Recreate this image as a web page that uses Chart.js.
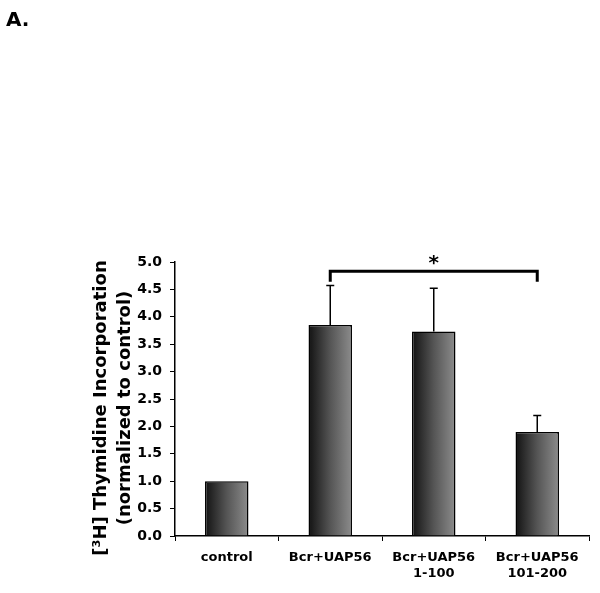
<!DOCTYPE html>
<html>
<head>
<meta charset="utf-8">
<script src="https://cdn.jsdelivr.net/npm/chart.js@4"></script>
<style>
  html, body { margin: 0; padding: 0; background: #fff; }
  #wrap { width: 600px; height: 593px; position: relative; }
</style>
</head>
<body>
<div id="wrap"><canvas id="thyChart"></canvas></div>
<script>
const categories = [['control'], ['Bcr+UAP56'], ['Bcr+UAP56', '1-100'], ['Bcr+UAP56', '101-200']];
const values = [1.0, 3.85, 3.73, 1.90];
const errors = [0, 0.72, 0.79, 0.30];
const yTicks = [0, 0.5, 1.0, 1.5, 2.0, 2.5, 3.0, 3.5, 4.0, 4.5, 5.0];
const bracket = { from: 1, to: 3, level: 4.83, drop: 4.64, label: '*' };

const FONT = '"DejaVu Sans", Verdana, sans-serif';
const BAR_PCT = 0.42;

function barGradient(context) {
    const chart = context.chart;
    const xs = chart.scales.x;
    if (!xs || context.dataIndex === undefined) return '#555';
    const cx = xs.getPixelForValue(context.dataIndex);
    const half = (xs.width / categories.length) * BAR_PCT / 2;
    if (!Number.isFinite(cx) || !Number.isFinite(half)) return '#555';
    const g = chart.ctx.createLinearGradient(cx - half, 0, cx + half, 0);
    g.addColorStop(0, '#121212');
    g.addColorStop(0.5, '#555555');
    g.addColorStop(1, '#8c8c8c');
    return g;
}

const extras = {
    id: 'extras',
    afterDatasetsDraw(chart) {
        const ctx = chart.ctx;
        const y = chart.scales.y;
        const meta = chart.getDatasetMeta(0);
        ctx.save();
        ctx.strokeStyle = '#000';
        ctx.lineWidth = 1.5;
        // error bars (upper only)
        meta.data.forEach((bar, i) => {
            if (!errors[i]) return;
            const top = y.getPixelForValue(values[i] + errors[i]);
            ctx.beginPath();
            ctx.moveTo(bar.x, bar.y);
            ctx.lineTo(bar.x, top);
            ctx.moveTo(bar.x - 4, top);
            ctx.lineTo(bar.x + 4, top);
            ctx.stroke();
        });
        // significance bracket
        const x1 = meta.data[bracket.from].x;
        const x2 = meta.data[bracket.to].x;
        const yl = y.getPixelForValue(bracket.level);
        const yd = y.getPixelForValue(bracket.drop);
        ctx.lineWidth = 3;
        ctx.beginPath();
        ctx.moveTo(x1, yd);
        ctx.lineTo(x1, yl);
        ctx.lineTo(x2, yl);
        ctx.lineTo(x2, yd);
        ctx.stroke();
        ctx.fillStyle = '#000';
        ctx.font = 'bold 20px ' + FONT;
        ctx.textAlign = 'center';
        ctx.textBaseline = 'middle';
        ctx.fillText(bracket.label, (x1 + x2) / 2, yl - 8);

        // axis title
        const cy = (chart.chartArea.top + chart.chartArea.bottom) / 2 + 9;
        ctx.save();
        ctx.translate(101, cy);
        ctx.rotate(-Math.PI / 2);
        ctx.font = 'bold 18px ' + FONT;
        ctx.fillText('[\u00B3H] Thymidine Incorporation', 0, 0);
        ctx.fillText('(normalized to control)', 0, 24);
        ctx.restore();

        // panel letter
        ctx.textAlign = 'left';
        ctx.textBaseline = 'alphabetic';
        ctx.font = 'bold 20px ' + FONT;
        ctx.fillText('A.', 6, 26);
        ctx.restore();
    }
};

new Chart(document.getElementById('thyChart').getContext('2d'), {
    type: 'bar',
    data: {
        labels: categories,
        datasets: [{
            data: values,
            backgroundColor: barGradient,
            borderColor: '#000',
            borderWidth: 1.5,
            borderSkipped: 'bottom',
            categoryPercentage: 1,
            barPercentage: BAR_PCT
        }]
    },
    options: {
        responsive: true,
        maintainAspectRatio: false,
        animation: false,
        layout: { padding: { top: 262, right: 11, left: 0, bottom: 0 } },
        plugins: { legend: { display: false }, tooltip: { enabled: false } },
        scales: {
            x: {
                offset: true,
                grid: { display: true, offset: true, drawOnChartArea: false, color: '#000', tickLength: 5, lineWidth: 1 },
                border: { color: '#000', width: 1.5 },
                ticks: { color: '#000', font: { family: FONT, weight: 'bold', size: 13 }, padding: 9, maxRotation: 0 },
                afterFit(scale) { scale.height = 57; }
            },
            y: {
                min: 0,
                max: 5,
                afterBuildTicks(scale) { scale.ticks = yTicks.map(v => ({ value: v })); },
                grid: { display: true, drawOnChartArea: false, color: '#000', tickLength: 5 },
                border: { color: '#000', width: 1.5 },
                ticks: {
                    color: '#000',
                    font: { family: FONT, weight: 'bold', size: 14 },
                    padding: 8,
                    callback: v => v.toFixed(1)
                },
                afterFit(scale) { scale.width = 175; }
            }
        }
    },
    plugins: [extras]
});
</script>
</body>
</html>
